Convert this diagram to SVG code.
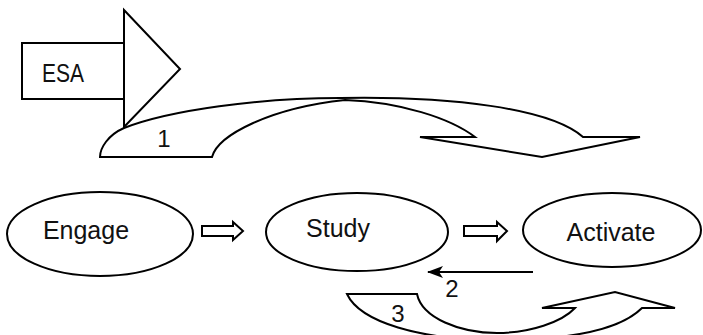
<svg xmlns="http://www.w3.org/2000/svg" width="703" height="335" viewBox="0 0 703 335">
<style>
.s{fill:#fff;stroke:#000;stroke-width:2;stroke-linejoin:miter}
.t{font-family:"Liberation Sans",Arial,sans-serif;font-size:25px;fill:#111;text-anchor:middle}
.n{font-family:"Liberation Sans",Arial,sans-serif;font-size:24px;fill:#111;text-anchor:middle}
</style>
<defs>
<marker id="ah" viewBox="0 0 16 12" refX="15" refY="6" markerWidth="16" markerHeight="12" markerUnits="userSpaceOnUse" orient="auto">
<path d="M0,0 L16,6 L0,12 L4,6 Z" fill="#000"/>
</marker>
</defs>
<rect width="703" height="335" fill="#fff"/>
<g id="esa">
<rect class="s" x="22" y="43" width="102" height="56"/>
<polygon class="s" points="124,10 180,69 124,127"/>
<text class="t" x="63" y="82" font-size="26" textLength="42" lengthAdjust="spacingAndGlyphs">ESA</text>
</g>
<g id="connectors">
<path id="arrow1" class="s" d="M100,157 L212,157 C218,135 270,108 345,100 C400,102 450,118 475,137 L420,137 L542,157 L640,137 L583,137 C550,108 450,96 340,98 C260,98 170,110 124,128 C108,135 100,148 100,157 Z"/>
<text class="n" x="164" y="147" font-size="22">1</text>
<polygon class="s" points="202,226 233,226 233,222 243,231 233,240 233,236 202,236"/>
<polygon class="s" points="464,226 497,226 497,222 507,231 497,241 497,236 464,236"/>
<line x1="533" y1="272" x2="428" y2="272" stroke="#000" stroke-width="2" marker-end="url(#ah)"/>
<text class="n" x="452" y="297">2</text>
<path id="arrow3" class="s" d="M347,294 L417,294 C422,318 460,333 497,333 C530,333 562,322 575,308 L542,308 L615,292 L675,308 L642,308 C620,330 570,340 497,340 C420,340 360,322 347,294 Z"/>
<text class="n" x="398" y="322">3</text>
</g>
<g id="engage">
<ellipse class="s" cx="100" cy="234" rx="93" ry="42"/>
<text class="t" x="86" y="239">Engage</text>
</g>
<g id="study">
<ellipse class="s" cx="357" cy="232" rx="91" ry="39"/>
<text class="t" x="338" y="237">Study</text>
</g>
<g id="activate">
<ellipse class="s" cx="612" cy="230" rx="89" ry="37"/>
<text class="t" x="611" y="241">Activate</text>
</g>
</svg>
